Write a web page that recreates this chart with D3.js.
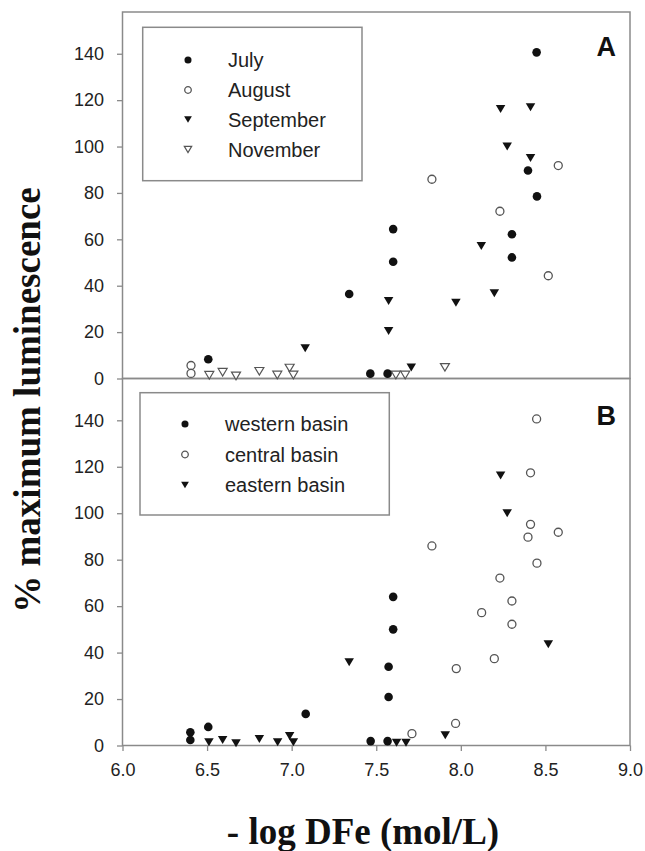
<!DOCTYPE html>
<html>
<head>
<meta charset="utf-8">
<script src="https://cdn.jsdelivr.net/npm/d3@7"></script>
<style>
  html, body { margin: 0; padding: 0; background: #fff; }
  svg { display: block; }
</style>
</head>
<body>
<svg id="chart" width="645" height="851"></svg>
<script>
// ---- Data (x = -log DFe, y = % maximum luminescence) ----
// Panel A series
const july = [[8.448,140.6],[8.397,89.7],[8.45,78.5],[8.302,62.2],[8.302,52.2],[7.60,64.4],[7.60,50.3],[7.34,36.4],[7.465,2.1],[7.567,2.1],[6.507,8.3]];
const august = [[7.829,85.9],[8.576,91.8],[8.231,72.1],[8.517,44.3],[6.405,5.6],[6.405,2.2]];
const september = [[8.235,116.2],[8.412,116.9],[8.274,100],[8.412,95.1],[8.121,57.1],[8.198,36.8],[7.971,32.7],[7.573,33.4],[7.573,20.5],[7.707,4.7],[7.08,13.0]];
const november = [[7.906,4.8],[7.616,1.5],[7.671,1.5],[6.513,1.4],[6.592,2.7],[6.671,1.1],[6.809,3.1],[6.915,1.5],[6.988,4.5],[7.01,1.5]];
// Panel B series
const western = [[7.60,64],[7.60,50],[7.573,33.9],[7.573,20.9],[7.467,1.9],[7.567,1.9],[6.401,5.7],[6.401,2.4],[6.507,8.0],[7.083,13.6]];
const central = [[8.448,140.6],[8.412,117.4],[8.412,95.2],[8.397,89.7],[8.576,91.8],[7.829,85.9],[8.45,78.5],[8.231,72.1],[8.302,62.2],[8.123,57.2],[8.302,52.2],[8.198,37.4],[7.973,33.1],[7.969,9.5],[7.711,5.1]];
const eastern = [[8.235,116.2],[8.274,100],[8.517,43.6],[7.34,35.8],[7.908,4.4],[7.62,1.2],[7.676,1.2],[6.511,1.4],[6.592,2.4],[6.671,1.0],[6.809,2.8],[6.917,1.4],[6.988,4.1],[7.01,1.4]];

const legendA = ["July","August","September","November"];
const legendB = ["western basin","central basin","eastern basin"];
const xTicks = [6.0,6.5,7.0,7.5,8.0,8.5,9.0];
const yTicks = [0,20,40,60,80,100,120,140];
const xDomain = [6,9];
const yDomain = [0,158];

// ---- Layout ----
const L = 122.5, R = 630;
const aTop = 12, mid = 378.5, bBot = 745.5;
const axisColor = "#8a8a8a";
const svg = d3.select("#chart");

const x = d3.scaleLinear().domain(xDomain).range([L, R]);
const yA = d3.scaleLinear().domain(yDomain).range([mid, aTop]);
const yB = d3.scaleLinear().domain(yDomain).range([bBot, mid]);

// marker drawers
function filledCircle(g, r) { return g.append("circle").attr("r", r).attr("fill", "#111"); }
function openCircle(g, r) { return g.append("circle").attr("r", r).attr("fill", "#fff").attr("stroke", "#555").attr("stroke-width", 1.3); }
function triPath(w, h) { return `M${-w/2},${-h/2}L${w/2},${-h/2}L0,${h/2}Z`; }
function filledTri(g, w, h) { return g.append("path").attr("d", triPath(w,h)).attr("fill", "#111"); }
function openTri(g, w, h) { return g.append("path").attr("d", triPath(w,h)).attr("fill", "#fff").attr("stroke", "#555").attr("stroke-width", 1.2); }

const markers = {
  fc: (g, s) => filledCircle(g, 4.3*s),
  oc: (g, s) => openCircle(g, 4.0*s),
  ft: (g, s) => filledTri(g, 9.5*s, 8*s),
  ot: (g, s) => openTri(g, 9*s, 7.6*s)
};

function drawPoints(data, yScale, type) {
  const g = svg.append("g");
  data.forEach(d => {
    const m = g.append("g").attr("transform", `translate(${x(d[0])},${yScale(d[1])})`);
    markers[type](m, 1);
  });
}

// ---- Frames ----
function frame(yScale, top, bottom) {
  svg.append("rect").attr("x", L).attr("y", top).attr("width", R - L).attr("height", bottom - top)
    .attr("fill", "none").attr("stroke", axisColor).attr("stroke-width", 1.5);
  const ax = svg.append("g").attr("transform", `translate(${L},0)`)
    .call(d3.axisLeft(yScale).tickValues(yTicks).tickSize(5.5).tickPadding(13).tickFormat(d3.format("d")));
  ax.select(".domain").remove();
  ax.selectAll(".tick line").attr("stroke", axisColor).attr("stroke-width", 1.3);
  ax.selectAll(".tick text").attr("font-family", "Liberation Sans, Arial, sans-serif")
    .attr("font-size", 18).attr("fill", "#222");
}
frame(yA, aTop, mid);
frame(yB, mid, bBot);

// x axis at bottom of panel B
const xa = svg.append("g").attr("transform", `translate(0,${bBot})`)
  .call(d3.axisBottom(x).tickValues(xTicks).tickSize(5.5).tickPadding(12).tickFormat(d3.format(".1f")));
xa.select(".domain").remove();
xa.selectAll(".tick line").attr("stroke", axisColor).attr("stroke-width", 1.3);
xa.selectAll(".tick text").attr("font-family", "Liberation Sans, Arial, sans-serif")
  .attr("font-size", 18).attr("fill", "#222");

// ---- Points ----
drawPoints(november, yA, "ot");
drawPoints(august, yA, "oc");
drawPoints(september, yA, "ft");
drawPoints(july, yA, "fc");

drawPoints(central, yB, "oc");
drawPoints(eastern, yB, "ft");
drawPoints(western, yB, "fc");

// ---- Legends ----
function legend(names, types, box, symX, textX, rowY) {
  svg.append("rect").attr("x", box[0]).attr("y", box[1]).attr("width", box[2]-box[0]).attr("height", box[3]-box[1])
    .attr("fill", "#fff").attr("stroke", axisColor).attr("stroke-width", 1.5);
  names.forEach((n, i) => {
    const m = svg.append("g").attr("transform", `translate(${symX},${rowY[i]})`);
    markers[types[i]](m, 0.82);
    svg.append("text").attr("x", textX).attr("y", rowY[i] + 7)
      .attr("font-family", "Liberation Sans, Arial, sans-serif").attr("font-size", 20)
      .attr("fill", "#222").text(n);
  });
}
legend(legendA, ["fc","oc","ft","ot"], [142.7, 27.3, 362, 180.7], 188, 228, [60, 90, 119.5, 149.5]);
legend(legendB, ["fc","oc","ft"], [140, 392.7, 389.3, 515], 185, 225, [424, 454.5, 485]);

// ---- Panel letters ----
svg.append("text").attr("x", 616).attr("y", 56).attr("text-anchor", "end")
  .attr("font-family", "Liberation Sans, Arial, sans-serif").attr("font-weight", "bold").attr("font-size", 27)
  .attr("fill", "#111").text("A");
svg.append("text").attr("x", 616).attr("y", 425).attr("text-anchor", "end")
  .attr("font-family", "Liberation Sans, Arial, sans-serif").attr("font-weight", "bold").attr("font-size", 27)
  .attr("fill", "#111").text("B");

// ---- Axis titles ----
svg.append("text").attr("transform", "translate(40,400) rotate(-90)").attr("text-anchor", "middle")
  .attr("font-family", "Liberation Serif, Times New Roman, serif").attr("font-weight", "bold").attr("font-size", 37)
  .attr("fill", "#111").text("% maximum luminescence");
svg.append("text").attr("x", 363).attr("y", 844).attr("text-anchor", "middle")
  .attr("font-family", "Liberation Serif, Times New Roman, serif").attr("font-weight", "bold").attr("font-size", 37)
  .attr("fill", "#111").text("- log DFe (mol/L)");
</script>
</body>
</html>
